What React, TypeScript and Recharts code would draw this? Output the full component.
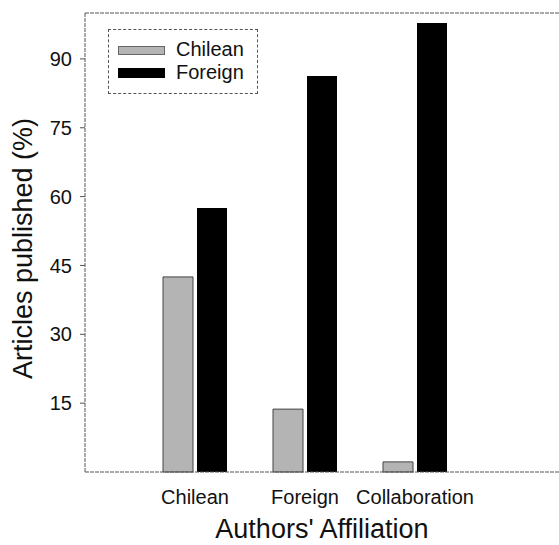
import { BarChart, Bar, XAxis, YAxis, ReferenceLine } from "recharts";

const categories = ["Chilean", "Foreign", "Collaboration"];
const chileanShare = [42.5, 13.7, 2.2];
const foreignShare = [57.5, 86.3, 97.8];
const yTicks = [15, 30, 45, 60, 75, 90];

const data = categories.map((name, i) => ({
  name,
  chilean: chileanShare[i],
  foreign: foreignShare[i],
}));

const FONT = "'Liberation Sans', Arial, Helvetica, sans-serif";
const AXIS = { stroke: "#555", strokeDasharray: "4 1" };

function LegendBox() {
  return (
    <div
      style={{
        position: "absolute",
        left: 108,
        top: 29,
        width: 150,
        height: 65,
        border: "1px dashed #555",
        background: "#fff",
        fontFamily: FONT,
        fontSize: 20,
        boxSizing: "border-box",
      }}
    >
      <div style={{ position: "absolute", left: 9, top: 16, width: 47, height: 9, background: "#b4b4b4", border: "1px solid #666", boxSizing: "border-box" }} />
      <div style={{ position: "absolute", left: 67, top: 8, lineHeight: "22px", color: "#111" }}>Chilean</div>
      <div style={{ position: "absolute", left: 9, top: 38, width: 47, height: 10, background: "#000" }} />
      <div style={{ position: "absolute", left: 67, top: 31, lineHeight: "22px", color: "#111" }}>Foreign</div>
    </div>
  );
}

export default function App() {
  return (
    <div style={{ position: "absolute", left: 0, top: 0, width: 559, height: 545, background: "#fff" }}>
      <BarChart
        width={559}
        height={545}
        data={data}
        margin={{ top: 13, right: 0, bottom: 0, left: 0 }}
        barSize={30}
        barGap={4}
      >
        <ReferenceLine y={100} stroke="#555" strokeDasharray="4 1" ifOverflow="extendDomain" />
        <XAxis
          dataKey="name"
          padding={{ left: 55, right: 89 }}
          height={73}
          tickLine={false}
          axisLine={AXIS}
          tick={{ fill: "#111", fontSize: 20, fontFamily: FONT }}
          tickMargin={12}
          label={{ value: "Authors' Affiliation", position: "insideBottom", offset: 7, fill: "#111", fontSize: 27, fontFamily: FONT }}
        />
        <YAxis
          domain={[0, 100]}
          ticks={yTicks}
          width={85}
          tickSize={5}
          axisLine={AXIS}
          tickLine={{ stroke: "#555" }}
          tick={{ fill: "#111", fontSize: 20, fontFamily: FONT }}
          tickMargin={8}
          label={{ value: "Articles published (%)", angle: -90, position: "insideLeft", offset: 22, dy: 6, style: { textAnchor: "middle" }, fill: "#111", fontSize: 27, fontFamily: FONT }}
        />
        <Bar dataKey="chilean" fill="#b4b4b4" stroke="#444" strokeWidth={1} isAnimationActive={false} />
        <Bar dataKey="foreign" fill="#000" isAnimationActive={false} />
      </BarChart>
      <LegendBox />
    </div>
  );
}
